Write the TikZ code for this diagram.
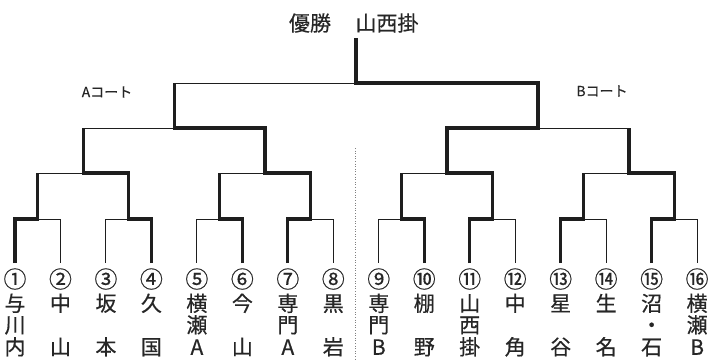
\documentclass[tikz,border=0pt]{standalone}
\usepackage{fontspec}
\newfontfamily\jfont{Noto Sans CJK JP}[FakeBold=0.5]
\definecolor{ink}{HTML}{1E1E1E}
\definecolor{txt}{HTML}{262626}
\tikzset{
  thinline/.style={draw=ink, line width=1pt},
  thickline/.style={draw=ink, line width=3.3pt, line join=miter},
  courtline/.style={draw=gray, line width=0.9pt, dash pattern=on 1pt off 1.6pt},
  lab/.style={inner sep=0pt, text=txt, font=\jfont\fontsize{21}{22}\selectfont, text height=0.85em, text depth=0.1em, anchor=center},
  numlab/.style={lab, font=\jfont\fontsize{23}{24}\selectfont},
  title/.style={inner sep=0pt, text=txt, font=\jfont\fontsize{21}{24}\selectfont},
  court/.style={inner sep=0pt, text=txt, font=\jfont\fontsize{14}{16}\selectfont}
}
\begin{document}
\begin{tikzpicture}[x=1pt,y=-1pt]
\useasboundingbox (0,0) rectangle (709,360);
\def\dx{45.473}
% leaf coordinates
\foreach \i in {1,...,16} {
  \pgfmathsetmacro\xx{15+\dx*(\i-1)}
  \coordinate (t\i) at (\xx,219);
  \coordinate (b\i) at (\xx,263);
}
% round 1 match points
\foreach \k in {1,...,8} {
  \pgfmathsetmacro\xx{15+\dx*(2*\k-1.5)}
  \coordinate (ra\k) at (\xx,219);
  \coordinate (pa\k) at (\xx,173);
}
% round 2 match points
\foreach \k in {1,...,4} {
  \pgfmathsetmacro\xx{15+\dx*(4*\k-2.5)}
  \coordinate (rb\k) at (\xx,173);
  \coordinate (pb\k) at (\xx,128);
}
% round 3 match points
\foreach \k in {1,2} {
  \pgfmathsetmacro\xx{15+\dx*(8*\k-4.5)}
  \coordinate (rc\k) at (\xx,128);
  \coordinate (pc\k) at (\xx,83);
}
\coordinate (fm) at (356.05,83);
\coordinate (ft) at (356.05,38);
\coordinate (dtop) at (355,148);
\coordinate (dbot) at (355,360);

% court divider
\draw[courtline] (dtop) -- (dbot);

% thin bracket lines
\foreach \i in {1,...,16} { \draw[thinline] (t\i) -- (b\i); }
\foreach \k [evaluate=\k as \a using int(2*\k-1), evaluate=\k as \b using int(2*\k)] in {1,...,8} {
  \draw[thinline] (t\a) -- (t\b);
}
\foreach \k [evaluate=\k as \a using int(2*\k-1), evaluate=\k as \b using int(2*\k)] in {1,...,4} {
  \draw[thinline] (pa\a) -- (pa\b);
}
\draw[thinline] (pb1) -- (pb2);
\draw[thinline] (pb3) -- (pb4);
\draw[thinline] (pc1) -- (pc2);

% winners' paths
\draw[thickline] (b1) -- (t1) -- (ra1) -- (pa1);
\draw[thickline] (b4) -- (t4) -- (ra2) -- (pa2) -- (rb1) -- (pb1);
\draw[thickline] (b6) -- (t6) -- (ra3) -- (pa3);
\draw[thickline] (b7) -- (t7) -- (ra4) -- (pa4) -- (rb2) -- (pb2) -- (rc1) -- (pc1);
\draw[thickline] (b10) -- (t10) -- (ra5) -- (pa5);
\draw[thickline] (b11) -- (t11) -- (ra6) -- (pa6) -- (rb3) -- (pb3) -- (rc2) -- (pc2) -- (fm) -- (ft);
\draw[thickline] (b13) -- (t13) -- (ra7) -- (pa7);
\draw[thickline] (b15) -- (t15) -- (ra8) -- (pa8) -- (rb4) -- (pb4);

% titles
\node[title] (win) at (310,23) {優勝};
\node[title] (champ) at (387,23) {山西掛};
\node[court] (courtA) at (107,92) {Aコート};
\node[court] (courtB) at (602,91) {Bコート};

% team labels
\foreach \i/\nn/\ca/\cb/\cc in {
  1/①/与/川/内, 2/②/中//山, 3/③/坂//本, 4/④/久//国,
  5/⑤/横/瀬/A, 6/⑥/今//山, 7/⑦/専/門/A, 8/⑧/黒//岩,
  9/⑨/専/門/B, 10/⑩/棚//野, 11/⑪/山/西/掛, 12/⑫/中//角,
  13/⑬/星//谷, 14/⑭/生//名, 15/⑮/沼/・/石, 16/⑯/横/瀬/B} {
  \pgfmathsetmacro\xx{15+\dx*(\i-1)}
  \node[numlab] (num\i) at (\xx,284) {\nn};
  \node[lab] (ca\i) at (\xx,307.5) {\ca};
  \node[lab] (cb\i) at (\xx,329) {\cb};
  \node[lab] (cc\i) at (\xx,351) {\cc};
}
\end{tikzpicture}
\end{document}
